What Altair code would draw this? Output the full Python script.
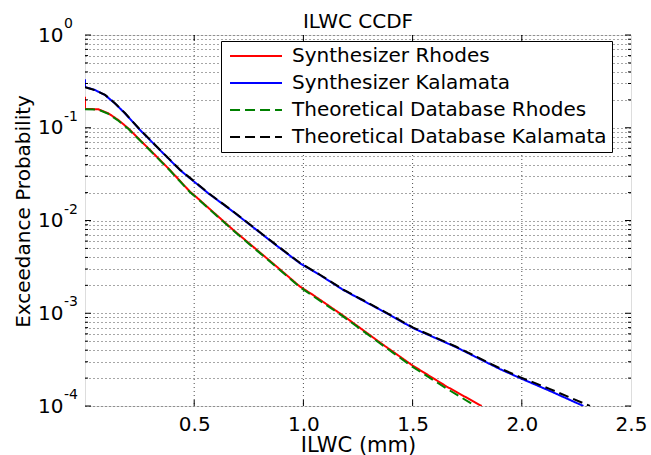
import altair as alt
import pandas as pd

FONT = "DejaVu Sans"

series_names = ["Synthesizer Rhodes", "Synthesizer Kalamata",
                "Theoretical Database Rhodes", "Theoretical Database Kalamata"]
series_colors = ["#ff0000", "#0000ff", "#008000", "#000000"]
series_dash = [[1, 0], [1, 0], [10, 5], [10, 5]]

# Synthesizer Rhodes
rho_syn_x = [0, 0, 0.061, 0.107, 0.153, 0.198, 0.298, 0.389, 0.481, 0.511, 0.679, 0.878,
             0.984, 1.045, 1.183, 1.35, 1.496, 1.656, 1.816]
rho_syn_y = [0.216, 0.160, 0.158, 0.143, 0.121, 0.0986, 0.0575, 0.035, 0.0204, 0.0178,
             0.0079, 0.00318, 0.00194, 0.00157, 9.4e-4, 4.85e-4, 2.77e-4, 1.62e-4, 1.0e-4]
# Synthesizer Kalamata
kal_syn_x = [0, 0, 0.046, 0.092, 0.137, 0.183, 0.252, 0.343, 0.435, 0.481, 0.565, 0.679,
             0.878, 0.984, 1.076, 1.183, 1.381, 1.503, 1.70, 1.90, 1.992, 2.13, 2.282]
kal_syn_y = [0.333, 0.275, 0.255, 0.225, 0.183, 0.143, 0.0946, 0.0575, 0.035, 0.0285,
             0.0196, 0.0124, 0.00535, 0.00346, 0.00258, 0.00178, 0.00100, 6.9e-4, 4.3e-4,
             2.5e-4, 2.0e-4, 1.45e-4, 1.0e-4]
# Theoretical Database Rhodes
rho_th_x = [0, 0.061, 0.107, 0.153, 0.198, 0.298, 0.389, 0.481, 0.511, 0.679, 0.878,
            0.984, 1.045, 1.183, 1.35, 1.496, 1.656, 1.77]
rho_th_y = [0.158, 0.157, 0.141, 0.119, 0.0975, 0.0568, 0.0346, 0.0202, 0.0176, 0.0078,
            0.00312, 0.00191, 0.00153, 9.2e-4, 4.75e-4, 2.68e-4, 1.54e-4, 1.06e-4]
# Theoretical Database Kalamata
kal_th_x = [0, 0.046, 0.092, 0.137, 0.183, 0.252, 0.343, 0.435, 0.481, 0.565, 0.679,
            0.878, 0.984, 1.076, 1.183, 1.381, 1.503, 1.70, 1.90, 1.992, 2.13, 2.312]
kal_th_y = [0.273, 0.254, 0.226, 0.184, 0.144, 0.0955, 0.058, 0.0353, 0.0288, 0.0198,
            0.0125, 0.0054, 0.0035, 0.0026, 0.0018, 0.00101, 7.0e-4, 4.35e-4, 2.55e-4,
            2.05e-4, 1.52e-4, 1.0e-4]

x_ticks = [0.5, 1, 1.5, 2, 2.5]
x_grid = [0.5, 1, 1.5, 2]
decades = [1e-4, 1e-3, 1e-2, 1e-1, 1]
exponents = ["-4", "-3", "-2", "-1", "0"]
minor_vals = [m * 10.0 ** k for k in range(-4, 0) for m in range(2, 10)]

rows = []
for name, xs, ys in [(series_names[0], rho_syn_x, rho_syn_y),
                     (series_names[1], kal_syn_x, kal_syn_y),
                     (series_names[2], rho_th_x, rho_th_y),
                     (series_names[3], kal_th_x, kal_th_y)]:
    for i, (xv, yv) in enumerate(zip(xs, ys)):
        rows.append({"series": name, "x": xv, "y": yv, "i": i})
df = pd.DataFrame(rows)

W, H = 546, 371

xscale = alt.Scale(domain=[0, 2.5], nice=False, zero=False)
yscale = alt.Scale(type="log", domain=[1e-4, 1], nice=False)

leg = alt.Legend(title=None, orient="none", legendX=136, legendY=6,
                 fillColor="white", strokeColor="black", padding=5,
                 labelFont=FONT, labelFontSize=20, labelColor="black",
                 symbolType="M-3,0L3,0", symbolSize=300, symbolStrokeWidth=2,
                 symbolOffset=20, labelOffset=26, rowPadding=7, labelLimit=500)

color = alt.Color("series:N", scale=alt.Scale(domain=series_names, range=series_colors), legend=leg)
dash = alt.StrokeDash("series:N", scale=alt.Scale(domain=series_names, range=series_dash), legend=leg)

all_y_vals = sorted(decades + minor_vals)
label_expr = "abs(log(datum.value)/LN10 - round(log(datum.value)/LN10)) < 1e-6 ? '10' : ''"

xaxis = alt.Axis(values=x_ticks, title="ILWC (mm)", labelFont=FONT, labelFontSize=20,
                 titleFont=FONT, titleFontSize=21, titleFontWeight="normal",
                 labelColor="black", titleColor="black", ticks=False, domain=False,
                 labelPadding=8, titlePadding=0, grid=False, labelFlush=False)
yaxis = alt.Axis(values=all_y_vals, labelExpr=label_expr, title="Exceedance Probability",
                 labelFont=FONT, labelFontSize=20, titleFont=FONT, titleFontSize=20,
                 titleFontWeight="normal", labelColor="black", titleColor="black",
                 ticks=False, domain=False, labelPadding=22, grid=True,
                 gridColor="#000000", gridDash=[1, 3], gridOpacity=0.7, gridWidth=1,
                 titleX=-62, titleY=176, titleAlign="center", titleBaseline="middle",
                 titleAngle=-90, labelFlush=False, labelOverlap=False)

synth = alt.Chart(df).transform_filter(
    alt.FieldOneOfPredicate(field="series", oneOf=series_names[:2])
).mark_line(strokeWidth=2, clip=True).encode(
    x=alt.X("x:Q", scale=xscale, axis=xaxis),
    y=alt.Y("y:Q", scale=yscale, axis=yaxis),
    color=color, strokeDash=dash, order=alt.Order("i:Q"))

theo = alt.Chart(df).transform_filter(
    alt.FieldOneOfPredicate(field="series", oneOf=series_names[2:])
).mark_line(strokeWidth=2, clip=True).encode(
    x=alt.X("x:Q", scale=xscale),
    y=alt.Y("y:Q", scale=yscale),
    color=color, strokeDash=dash, order=alt.Order("i:Q"))

xgrid_df = pd.DataFrame({"x": x_grid})
xgrid = alt.Chart(xgrid_df).mark_rule(color="#000000", strokeDash=[1, 3], opacity=0.7,
                                      strokeWidth=1).encode(
    x=alt.X("x:Q", scale=xscale), y=alt.value(0), y2=alt.value(H))

maj_df = pd.DataFrame({"v": decades})
min_df = pd.DataFrame({"v": minor_vals})
xt_df = pd.DataFrame({"x": x_grid})

def yticks(d, length):
    left = alt.Chart(d).mark_rule(color="black").encode(
        y=alt.Y("v:Q", scale=yscale), x=alt.value(0), x2=alt.value(length))
    right = alt.Chart(d).mark_rule(color="black").encode(
        y=alt.Y("v:Q", scale=yscale), x=alt.value(W - length), x2=alt.value(W))
    return left + right

xt_bot = alt.Chart(xt_df).mark_rule(color="black").encode(
    x=alt.X("x:Q", scale=xscale), y=alt.value(H - 6), y2=alt.value(H))
xt_top = alt.Chart(xt_df).mark_rule(color="black").encode(
    x=alt.X("x:Q", scale=xscale), y=alt.value(0), y2=alt.value(6))

exp_df = pd.DataFrame({"v": decades, "e": exponents})
exps = alt.Chart(exp_df).mark_text(align="left", baseline="middle", dy=-11, fontSize=14,
                                   font=FONT, color="black", clip=False).encode(
    y=alt.Y("v:Q", scale=yscale), x=alt.value(-21), text="e:N")

chart = alt.layer(
    synth, xgrid, yticks(maj_df, 6), yticks(min_df, 3), xt_bot, xt_top, exps, theo
).resolve_scale(color="shared", strokeDash="shared").properties(
    width=W, height=H,
    title=alt.TitleParams("ILWC CCDF", font=FONT, fontSize=20, fontWeight="normal",
                          color="black", offset=8, anchor="middle", dy=23),
    autosize=alt.AutoSizeParams(type="none"),
    padding={"left": 85, "top": 35, "right": 20, "bottom": 49},
).configure_view(stroke="black", strokeWidth=1.2).configure(background="white")

chart.save("out.html", embed_options={"renderer": "svg", "actions": False})
